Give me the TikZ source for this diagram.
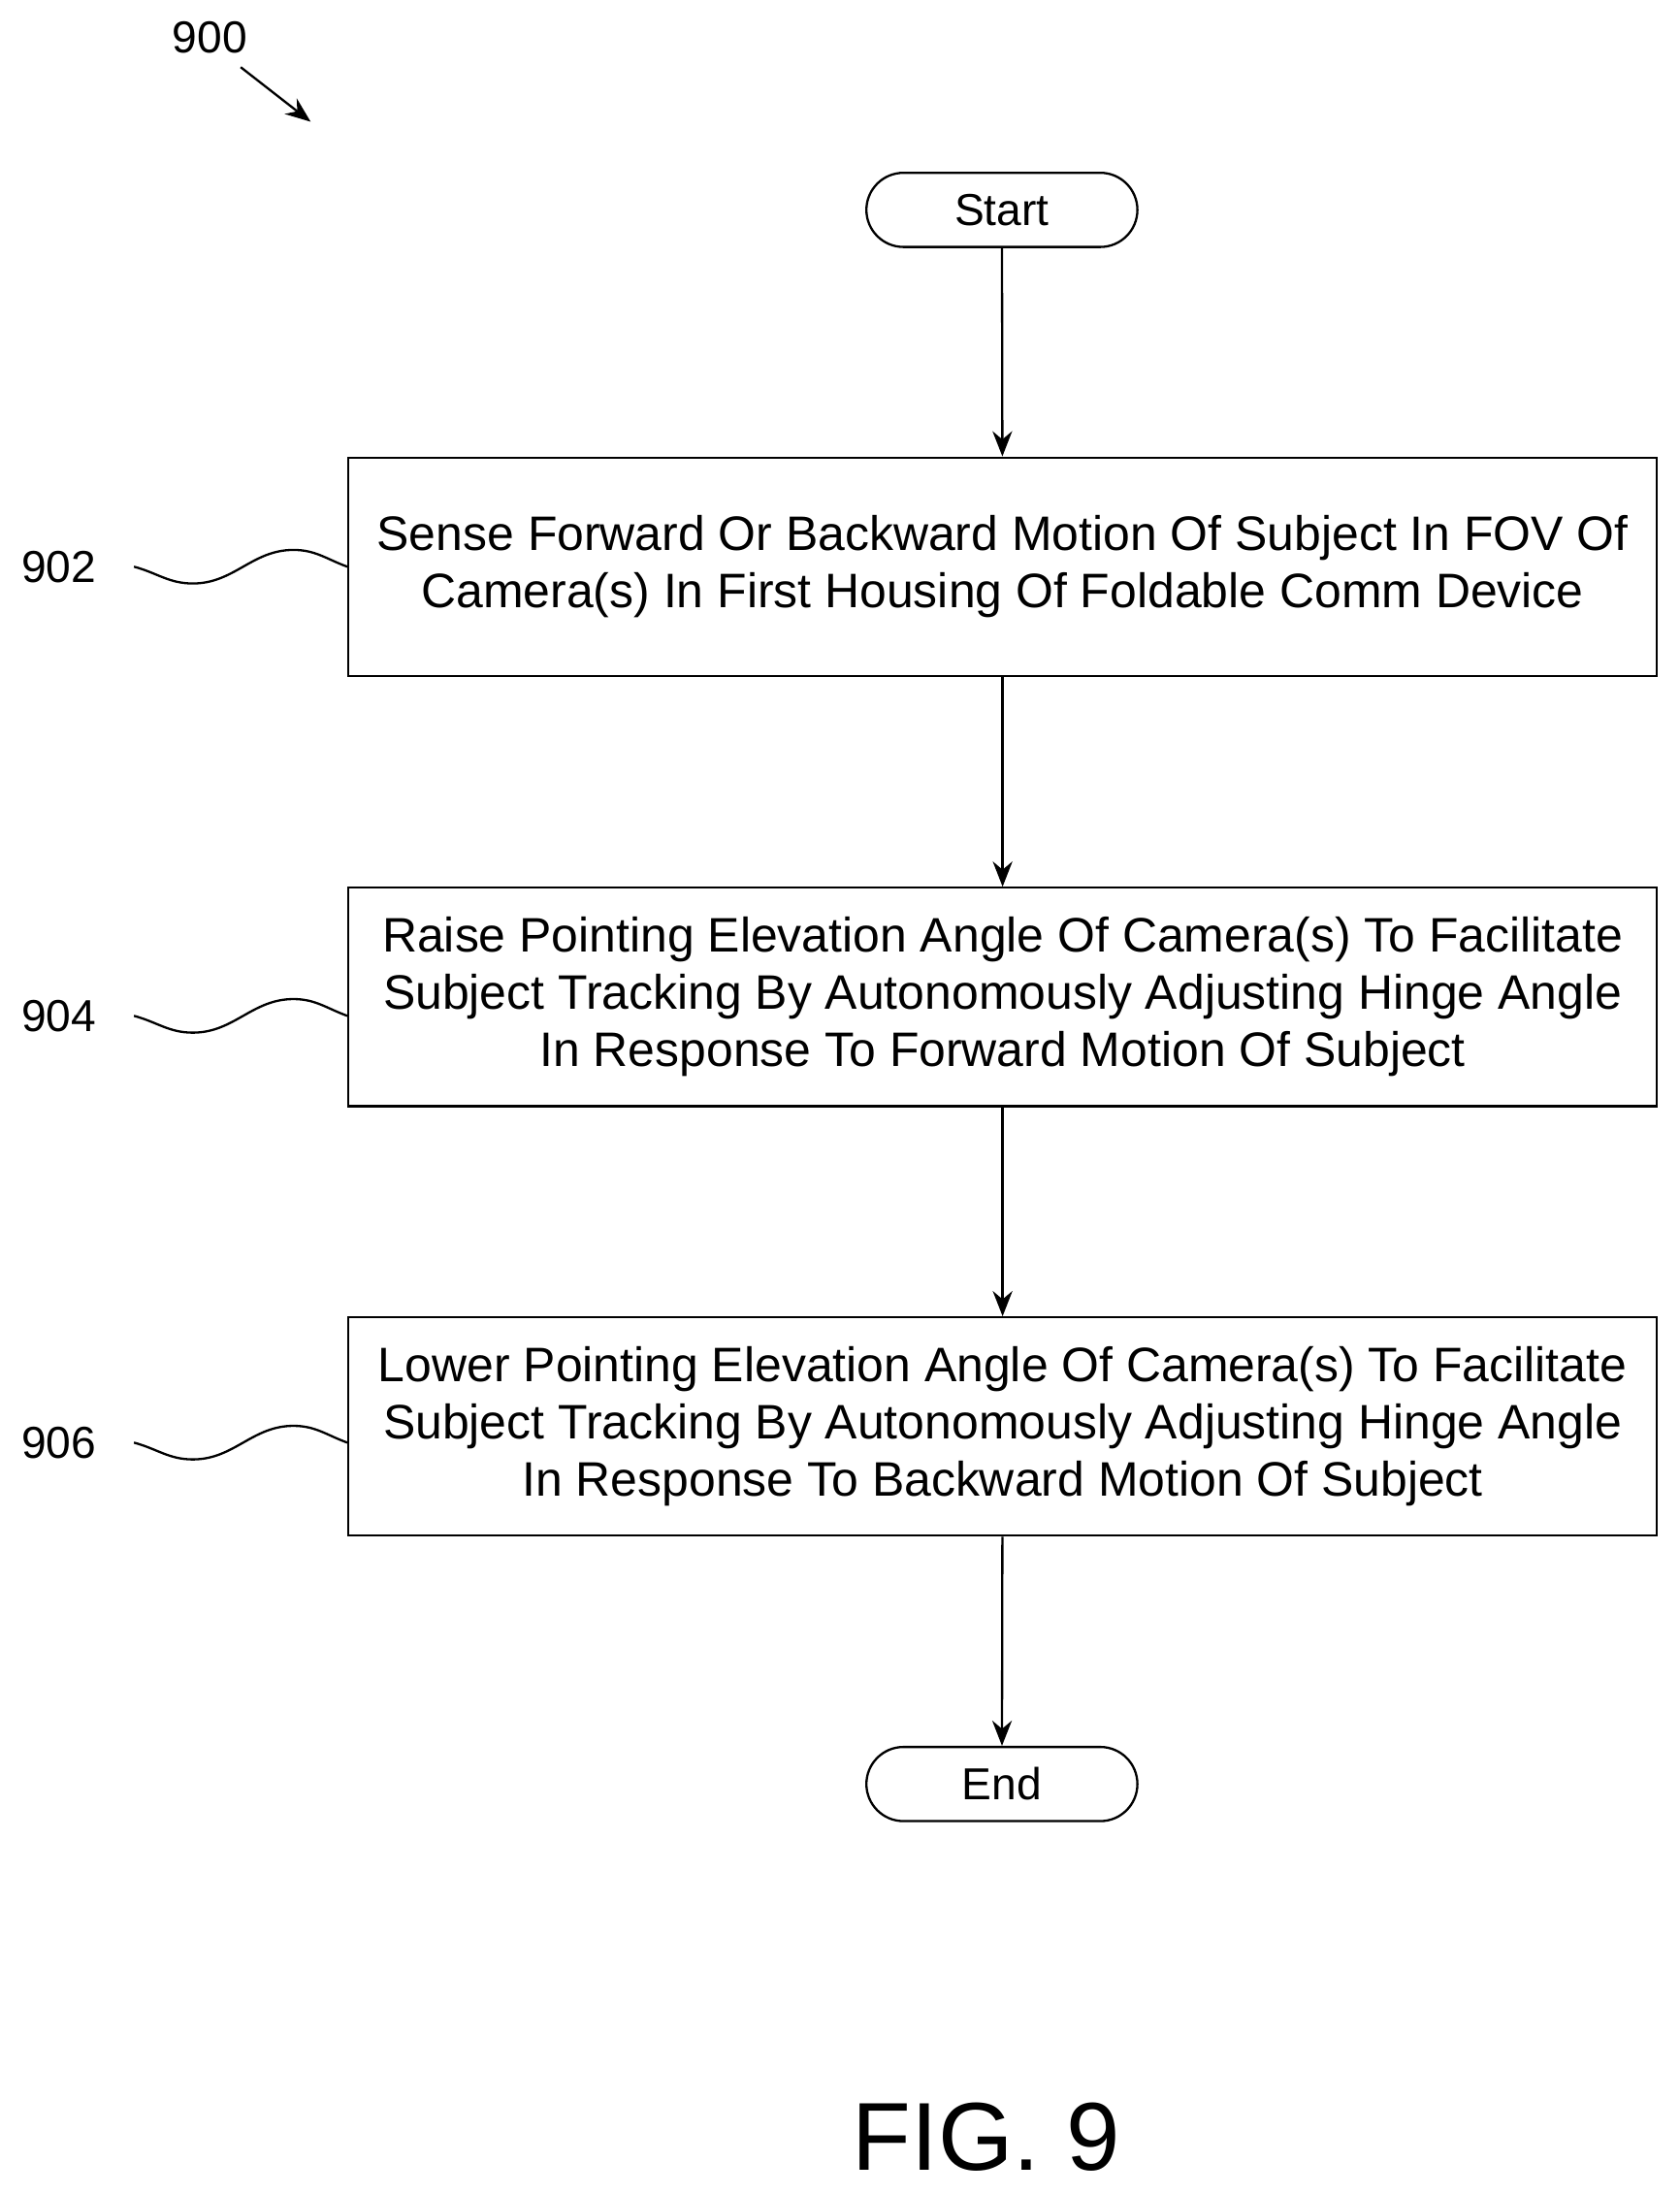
\documentclass[tikz,border=0pt]{standalone}
\usepackage{fontspec}
\setmainfont{Liberation Sans}
\usetikzlibrary{arrows,arrows.meta,positioning,shapes.misc}
\tikzset{
    %Define standard arrow tip
    >={Stealth[length=9pt,width=7pt]},
    %Define style for boxes
    stepbox/.style={
           rectangle,
           draw=black, thick,
           minimum width=467.5pt,
           minimum height=78pt,
           align=center,
           font=\fontsize{17.3}{20.5}\selectfont},
    term/.style={
           rounded rectangle,
           draw=black, thick,
           minimum width=103.5pt,
           minimum height=26.5pt,
           font=\fontsize{16}{20.5}\selectfont},
    ref/.style={
           font=\fontsize{16}{20.5}\selectfont},
    % Define arrow style
    pil/.style={
           ->,
           thick},
    wave/.style={thick}
}
\begin{document}
\begin{tikzpicture}[x=0.5pt,y=-0.5pt]
\useasboundingbox (0,0) rectangle (1200,1568);
 %nodes
\node[term](start) at (716,150){Start};
\node[stepbox](s902) at (716.5,405){Sense Forward Or Backward Motion Of Subject In FOV Of\\Camera(s) In First Housing Of Foldable Comm Device};
\node[stepbox](s904) at (716.5,712.5){Raise Pointing Elevation Angle Of Camera(s) To Facilitate\\Subject Tracking By Autonomously Adjusting Hinge Angle\\In Response To Forward Motion Of Subject};
\node[stepbox](s906) at (716.5,1019.5){Lower Pointing Elevation Angle Of Camera(s) To Facilitate\\Subject Tracking By Autonomously Adjusting Hinge Angle\\In Response To Backward Motion Of Subject};
\node[term](end) at (716,1275){End};
 %labels
\node[ref](l900) at (150,27){900};
\coordinate (a900) at (222,87);
\draw[pil] (172,48) -- (a900);
\foreach \n/\y in {902/405,904/726,906/1031}{
  \node[ref](l\n) at (42,\y){\n};
  \draw[wave] ([xshift=10pt]l\n.east) to[out=-15,in=180] ++(42,12) to[out=0,in=180] ++(72,-24) to[out=0,in=160] (s\n.west |- 0,\y);
}
\node[font=\fontsize{34.5}{40}\selectfont](fig) at (705,1527){FIG. 9};
 %arrows
\draw[pil] (start) -- (s902);
\draw[pil] (s902) -- (s904);
\draw[pil] (s904) -- (s906);
\draw[pil] (s906) -- (end);
\end{tikzpicture}
\end{document}
